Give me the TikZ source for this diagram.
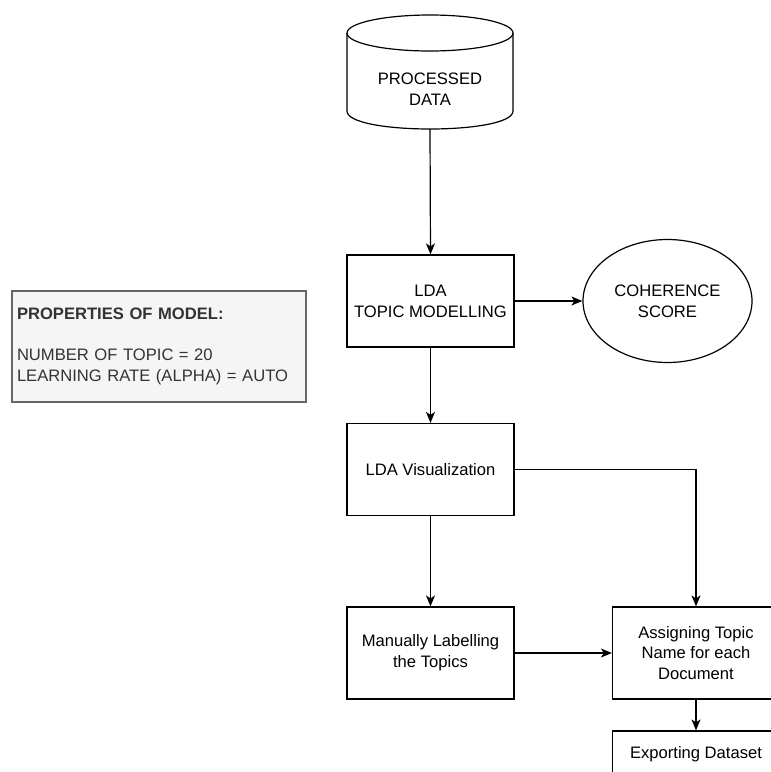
\documentclass[tikz,border=0pt]{standalone}
\usepackage{fontspec}
\setmainfont{Liberation Sans}
\usetikzlibrary{shapes.geometric,arrows.meta}

\definecolor{propfill}{HTML}{F5F5F5}
\definecolor{propedge}{HTML}{666666}
\definecolor{proptext}{HTML}{333333}

\tikzset{
  flowbox/.style={draw, line width=1.2pt, rectangle, inner sep=0pt,
    minimum width=167pt, minimum height=92pt, align=center,
    font=\fontsize{16.6}{20.8}\selectfont},
  plainlabel/.style={inner sep=0pt, align=center,
    font=\fontsize{16.6}{20.8}\selectfont},
  flowarrow/.style={draw, line width=1.2pt,
    -{Stealth[length=11pt,width=9pt,inset=3pt]}},
}

\begin{document}
\begin{tikzpicture}[x=1pt, y=-1pt]
  \useasboundingbox (0,0) rectangle (771,772);
  \clip (0,0) rectangle (771,772);

  % data store drawn as a cylinder
  \draw[line width=1.2pt, fill=white]
    (347,33) -- (347,111)
    .. controls (347,135) and (513,135) .. (513,111)
    -- (513,33);
  \draw[line width=1.2pt] (430,33) ellipse [x radius=83, y radius=18];
  \node[minimum width=166pt, minimum height=114pt, inner sep=0pt]
    (data) at (430,72) {};
  \node[plainlabel] (datalabel) at (430,89) {PROCESSED\\DATA};

  % processing steps
  \node[flowbox] (lda)    at (430.5,301) {LDA\\TOPIC MODELLING};
  \node[draw, line width=1.2pt, ellipse, inner sep=0pt,
        minimum width=169pt, minimum height=123pt, align=center,
        font=\fontsize{16.6}{20.8}\selectfont]
        (coh) at (667.5,301) {COHERENCE\\SCORE};
  \node[flowbox] (viz)    at (430.5,469.5) {LDA Visualization};
  \node[flowbox] (manual) at (430.5,653) {Manually Labelling\\the Topics};
  \node[flowbox] (assign) at (696,653) {Assigning Topic\\Name for each\\Document};
  \node[flowbox, minimum height=46pt] (export) at (696,754) {Exporting Dataset};

  % model properties note
  \node[draw=propedge, fill=propfill, line width=1.2pt, rectangle,
        inner sep=0pt, minimum width=294pt, minimum height=111pt,
        text width=284pt, align=left, text=proptext,
        font=\fontsize{16.6}{20.8}\selectfont]
        (props) at (159,346.5)
        {\textbf{PROPERTIES OF MODEL:}\\[20.8pt]
         NUMBER OF TOPIC = 20\\
         LEARNING RATE (ALPHA) = AUTO};

  % connectors
  \draw[flowarrow] (data.south)   -- (lda.north);
  \draw[flowarrow] (lda.east)     -- (coh.west);
  \draw[flowarrow] (lda.south)    -- (viz.north);
  \draw[flowarrow] (viz.south)    -- (manual.north);
  \draw[flowarrow] (viz.east)     -| (assign.north);
  \draw[flowarrow] (manual.east)  -- (assign.west);
  \draw[flowarrow] (assign.south) -- (export.north);
\end{tikzpicture}
\end{document}
